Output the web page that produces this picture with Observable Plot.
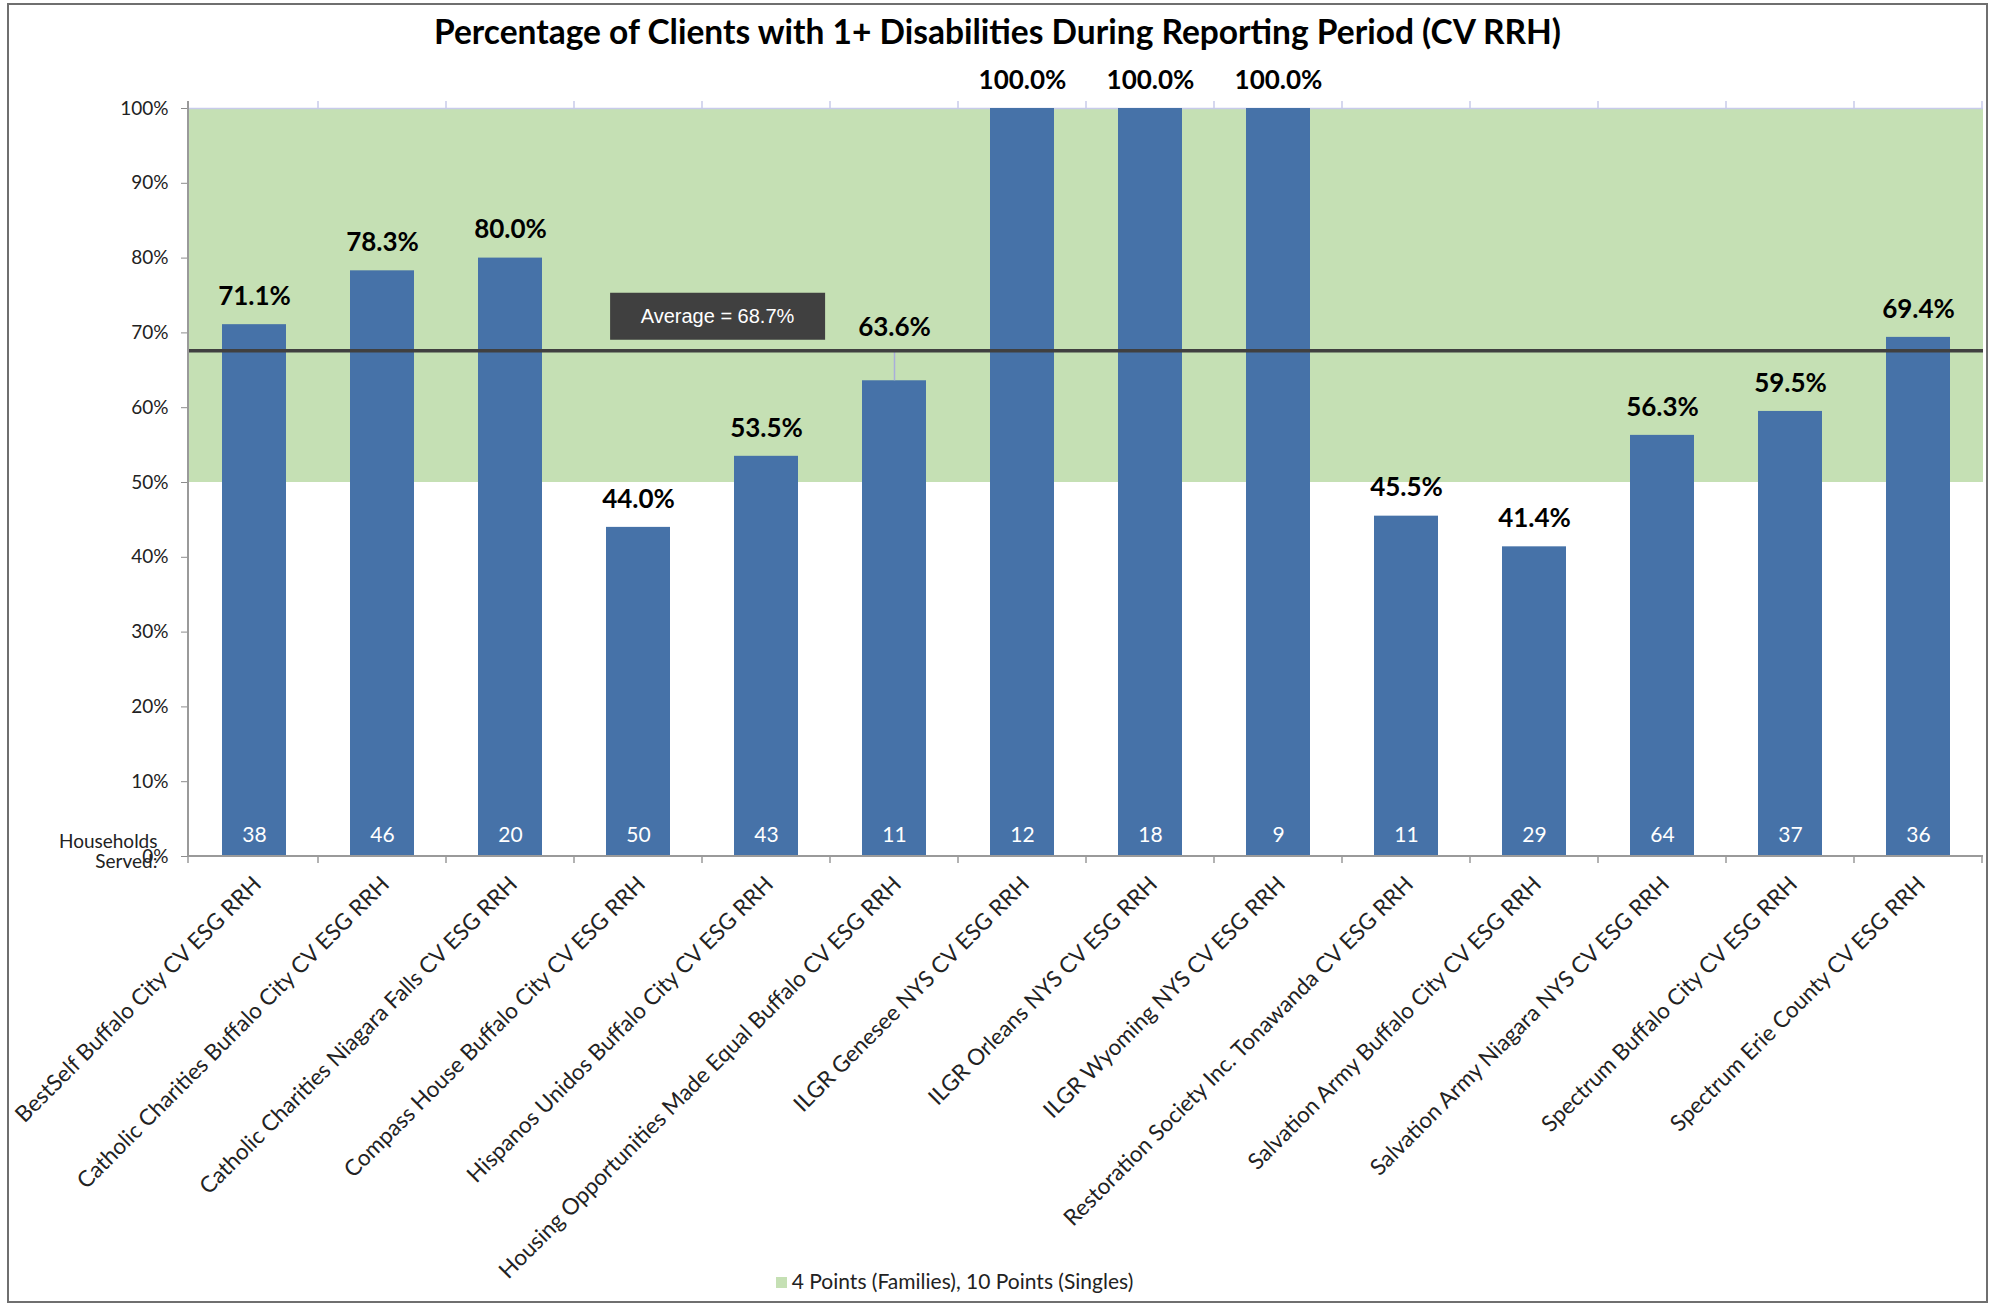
<!DOCTYPE html>
<html>
<head>
<meta charset="utf-8">
<script src="https://cdn.jsdelivr.net/npm/d3@7"></script>
<script src="https://cdn.jsdelivr.net/npm/@observablehq/plot@0.6"></script>
<style>
  html, body { margin: 0; padding: 0; background: #fff; }
  body { width: 1995px; height: 1305px; position: relative; overflow: hidden; font-family: Lato, "Open Sans", sans-serif; }
  #frame { position: absolute; left: 7px; top: 3px; width: 1981px; height: 1300px; border: 2px solid #6f6f6f; box-sizing: border-box; }
  #title { position: absolute; left: 0; width: 1995px; top: 11px; text-align: center; font: 700 33.5px Lato, sans-serif; color: #000; }
  #chart { position: absolute; left: 0; top: 55px; }
  #legend { position: absolute; left: -43px; width: 1995px; top: 1268px; text-align: center; font: 400 21px Lato, sans-serif; color: #222; }
  #legend .sw { display: inline-block; width: 11px; height: 11px; background: #C5E0B4; margin-right: 5px; vertical-align: 1px; }
</style>
</head>
<body>
<div id="frame"></div>
<div id="title"></div>
<div id="chart"></div>
<div id="legend"></div>
<script>
// ---- data ----
const titleText = "Percentage of Clients with 1+ Disabilities During Reporting Period (CV RRH)";
const categories = [
  "BestSelf Buffalo City CV ESG RRH",
  "Catholic Charities Buffalo City CV ESG RRH",
  "Catholic Charities Niagara Falls CV ESG RRH",
  "Compass House Buffalo City CV ESG RRH",
  "Hispanos Unidos Buffalo City CV ESG RRH",
  "Housing Opportunities Made Equal Buffalo CV ESG RRH",
  "ILGR Genesee NYS CV ESG RRH",
  "ILGR Orleans NYS CV ESG RRH",
  "ILGR Wyoming NYS CV ESG RRH",
  "Restoration Society Inc. Tonawanda CV ESG RRH",
  "Salvation Army Buffalo City CV ESG RRH",
  "Salvation Army Niagara NYS CV ESG RRH",
  "Spectrum Buffalo City CV ESG RRH",
  "Spectrum Erie County CV ESG RRH"
];
const pctValues = [71.1, 78.3, 80.0, 44.0, 53.5, 63.6, 100.0, 100.0, 100.0, 45.5, 41.4, 56.3, 59.5, 69.4];
const households = [38, 46, 20, 50, 43, 11, 12, 18, 9, 11, 29, 64, 37, 36];
const yTicks = [0, 10, 20, 30, 40, 50, 60, 70, 80, 90, 100];
const targetBand = [50, 100];
const avgLine = 67.6;               // where the average line is drawn
const avgText = "Average = 68.7%";
const rowLabel = "Households\nServed:";
const legendText = "4 Points (Families), 10 Points (Singles)";

// ---- build ----
document.getElementById("title").textContent = titleText;
document.getElementById("legend").innerHTML = '<span class="sw"></span>' + legendText;

const rows = categories.map((c, i) => ({name: c, pct: pctValues[i], hh: households[i]}));
const lifted = rows.filter(d => d.pct < avgLine && avgLine - d.pct < 6);
const normal = rows.filter(d => !lifted.includes(d));
const band = [{lo: targetBand[0], hi: targetBand[1]}];

const BAR = "#4672A8";
const FONT = "Lato, 'Open Sans', sans-serif";

const plot = Plot.plot({
  width: 1995,
  height: 1245,
  marginTop: 53,
  marginBottom: 444,
  marginLeft: 188,
  marginRight: 12,
  style: {fontFamily: FONT, background: "transparent", overflow: "visible"},
  x: {domain: categories, paddingInner: 0.5, paddingOuter: 0.25, label: null},
  y: {domain: [0, 100], label: null},
  marks: [
    Plot.rect(band, {y1: "lo", y2: "hi", fill: "#C5E0B4"}),
    Plot.ruleY([targetBand[1]], {stroke: "#c8cbea", strokeWidth: 1.5}),
    Plot.barY(rows, {x: "name", y: "pct", fill: BAR}),
    Plot.ruleX(lifted, {x: "name", y1: "pct", y2: avgLine, stroke: "#a9addb", strokeWidth: 1.5}),
    Plot.ruleY([avgLine], {stroke: "#404040", strokeWidth: 3.5}),
    Plot.text(normal, {x: "name", y: "pct", text: d => d.pct.toFixed(1) + "%", dy: -28, lineAnchor: "middle",
      fontSize: 26, fontWeight: 700, fill: "#000"}),
    Plot.text(lifted, {x: "name", y: avgLine, text: d => d.pct.toFixed(1) + "%", dy: -23, lineAnchor: "middle",
      fontSize: 26, fontWeight: 700, fill: "#000"}),
    Plot.text(rows, {x: "name", y: 0, text: d => String(d.hh), dy: -21, lineAnchor: "middle",
      fontSize: 21, fill: "#fff"}),
    Plot.text([avgText], {x: () => categories[4], y: () => avgLine, text: d => d, dx: -49, dy: -34,
      lineAnchor: "middle", fontSize: 20, fill: "#fff", fontFamily: "'Liberation Sans', Arial, sans-serif",
      className: "avg-label"}),
    Plot.text([rowLabel], {frameAnchor: "bottom-left", text: d => d, dx: -31, dy: -5, textAnchor: "end",
      lineAnchor: "middle", lineHeight: 1.05, fontSize: 19, fill: "#222"}),
    Plot.axisY({ticks: yTicks, tickFormat: d => d + "%", tickSize: 7, tickPadding: 13, fontSize: 19,
      stroke: "#8c8c8c", fill: "#222", label: null}),
    Plot.axisX({tickRotate: -45, tickSize: 0, tickPadding: 24, dx: 3, fontSize: 22.5, fill: "#222", label: null})
  ]
});

document.getElementById("chart").appendChild(plot);

// extra chart furniture drawn from the plot's own scales
const sx = plot.scale("x"), sy = plot.scale("y");
const g = d3.select(plot).append("g").attr("class", "furniture");
const left = sx.range[0], right = sx.range[1];
const y0 = sy.apply(0), y100 = sy.apply(100);
const boundaries = [left].concat(categories.map(c => sx.apply(c) + sx.bandwidth / 2 + sx.step / 2));
g.append("line").attr("x1", left).attr("x2", left).attr("y1", y100 - 7).attr("y2", y0)
  .attr("stroke", "#9a9a9a").attr("stroke-width", 2);
g.append("line").attr("x1", left).attr("x2", right).attr("y1", y0).attr("y2", y0)
  .attr("stroke", "#9a9a9a").attr("stroke-width", 2);
boundaries.forEach(b => {
  g.append("line").attr("x1", b).attr("x2", b).attr("y1", y0).attr("y2", y0 + 7)
    .attr("stroke", "#9a9a9a").attr("stroke-width", 1.5);
  if (b > left) g.append("line").attr("x1", b).attr("x2", b).attr("y1", y100).attr("y2", y100 - 7)
    .attr("stroke", "#c8cbea").attr("stroke-width", 1.5);
});

// dark box behind the average label
const lab = d3.select(plot).select("g.avg-label text");
if (!lab.empty()) {
  const node = lab.node();
  const bb = node.getBBox();
  const cx = bb.x + bb.width / 2, cy = bb.y + bb.height / 2;
  d3.select(node.parentNode).insert("rect", "text")
    .attr("transform", node.getAttribute("transform"))
    .attr("x", cx - 107.5).attr("y", cy - 23.5).attr("width", 215).attr("height", 47).attr("fill", "#404040");
}
</script>
</body>
</html>
